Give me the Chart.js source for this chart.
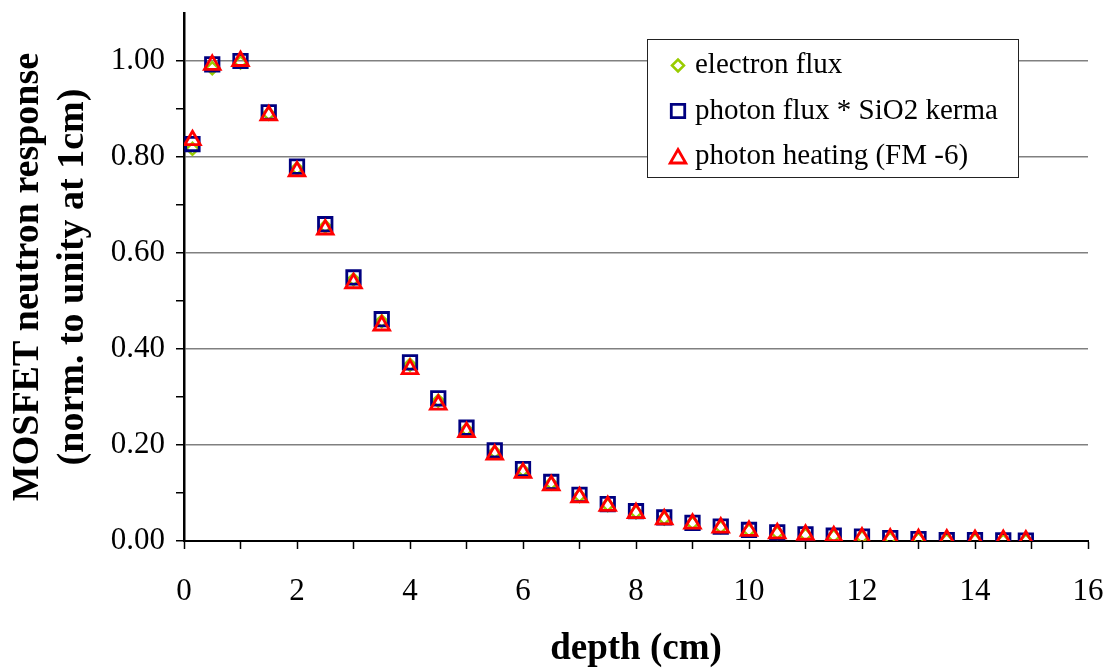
<!DOCTYPE html>
<html>
<head>
<meta charset="utf-8">
<title>MOSFET neutron response vs depth</title>
<script src="https://cdn.jsdelivr.net/npm/chart.js@4/dist/chart.umd.min.js"></script>
<style>
  html, body { margin: 0; padding: 0; background: #fff; }
  #wrap { width: 1110px; height: 668px; }
</style>
</head>
<body>
<div id="wrap"><canvas id="resp" width="1110" height="668"></canvas></div>
<script>
// depth in cm
var depth = [0.15, 0.5, 1, 1.5, 2, 2.5, 3, 3.5, 4, 4.5, 5, 5.5, 6, 6.5, 7, 7.5,
             8, 8.5, 9, 9.5, 10, 10.5, 11, 11.5, 12, 12.5, 13, 13.5, 14, 14.5, 14.9];

// response normalised to 1 at 1 cm
var electronFlux = [0.817, 0.985, 0.997, 0.890, 0.776, 0.655, 0.545, 0.458, 0.367, 0.292,
                    0.232, 0.185, 0.147, 0.120, 0.094, 0.075, 0.060, 0.047, 0.037, 0.029,
                    0.022, 0.017, 0.013, 0.010, 0.008, 0.005, 0.004, 0.002, 0.002, 0.001, 0.001];
var photonKerma = [0.827, 0.993, 1.000, 0.893, 0.780, 0.660, 0.549, 0.462, 0.372, 0.297,
                   0.236, 0.189, 0.150, 0.123, 0.096, 0.077, 0.062, 0.049, 0.038, 0.030,
                   0.023, 0.018, 0.014, 0.011, 0.009, 0.006, 0.004, 0.002, 0.002, 0.0015, 0.001];
var photonHeating = [0.835, 0.992, 1.000, 0.887, 0.770, 0.649, 0.537, 0.449, 0.358, 0.284,
                     0.227, 0.180, 0.142, 0.116, 0.091, 0.073, 0.058, 0.045, 0.036, 0.028,
                     0.021, 0.016, 0.013, 0.010, 0.007, 0.005, 0.004, 0.003, 0.002, 0.002, 0.001];

var seriesLabels = ['electron flux', 'photon flux * SiO2 kerma', 'photon heating (FM -6)'];

var xTicksMax = 16;
var yTicksMax = 1.1;

Chart.defaults.font.family = "'Liberation Serif', 'Times New Roman', serif";
Chart.defaults.color = '#000';

function pts(ys) {
    return depth.map(function (d, i) { return { x: d, y: ys[i] }; });
}

// legend box in the upper right of the plot
var boxLegend = {
    id: 'boxLegend',
    afterDraw: function (chart) {
        var ctx = chart.ctx;
        var bx = 647.5, by = 39.5, bw = 371, bh = 138;
        ctx.save();
        ctx.fillStyle = '#fff';
        ctx.fillRect(bx, by, bw, bh);
        ctx.strokeStyle = '#222';
        ctx.lineWidth = 1;
        ctx.strokeRect(bx, by, bw, bh);

        chart.data.datasets.forEach(function (ds, i) {
            var cy = by + 26 + i * 45.5;
            ctx.save();
            ctx.strokeStyle = ds.borderColor;
            ctx.fillStyle = 'rgba(0,0,0,0)';
            ctx.lineWidth = ds.borderWidth;
            Chart.helpers.drawPoint(ctx, {
                pointStyle: ds.pointStyle,
                radius: ds.pointRadius,
                borderWidth: ds.borderWidth,
                rotation: 0
            }, 678, cy + (ds.pointStyle === 'triangle' ? 2 : 0));
            ctx.restore();

            ctx.fillStyle = '#000';
            ctx.font = "29px 'Liberation Serif', 'Times New Roman', serif";
            ctx.textBaseline = 'middle';
            ctx.textAlign = 'left';
            ctx.fillText(ds.label, 695, cy);
        });
        ctx.restore();
    }
};

new Chart(document.getElementById('resp'), {
    type: 'scatter',
    data: {
        datasets: [
            {
                label: seriesLabels[0],
                data: pts(electronFlux),
                pointStyle: 'rectRot',
                pointRadius: 6,
                borderColor: '#99CC00',
                backgroundColor: 'rgba(0,0,0,0)',
                borderWidth: 2.5,
                order: 3
            },
            {
                label: seriesLabels[1],
                data: pts(photonKerma),
                pointStyle: 'rect',
                pointRadius: 9.5,
                borderColor: '#000080',
                backgroundColor: 'rgba(0,0,0,0)',
                borderWidth: 2.8,
                order: 2
            },
            {
                label: seriesLabels[2],
                data: pts(photonHeating),
                pointStyle: 'triangle',
                pointRadius: 9,
                borderColor: '#FF0000',
                backgroundColor: 'rgba(0,0,0,0)',
                borderWidth: 2.8,
                order: 1
            }
        ]
    },
    options: {
        responsive: false,
        animation: false,
        devicePixelRatio: 1,
        layout: { padding: { left: 0, right: 22, top: 13, bottom: 0 } },
        plugins: {
            legend: { display: false },
            tooltip: { enabled: false }
        },
        scales: {
            x: {
                type: 'linear',
                min: 0,
                max: xTicksMax,
                afterFit: function (s) {
                    s.height = 127;
                    s.paddingLeft = 0;
                    s.paddingRight = 0;
                },
                border: { color: '#000', width: 2 },
                grid: {
                    drawOnChartArea: false,
                    drawTicks: true,
                    tickLength: 8,
                    tickColor: '#000',
                    tickWidth: 1.5
                },
                ticks: {
                    stepSize: 1,
                    autoSkip: false,
                    maxRotation: 0,
                    padding: 24,
                    font: { size: 31 },
                    callback: function (v) { return v % 2 === 0 ? String(v) : ''; }
                },
                title: {
                    display: true,
                    text: 'depth (cm)',
                    font: { size: 37, weight: 'bold', lineHeight: 1.0 },
                    padding: { top: 0, bottom: 0 }
                }
            },
            y: {
                type: 'linear',
                min: 0,
                max: yTicksMax,
                afterFit: function (s) {
                    s.width = 184;
                    s.paddingTop = 0;
                    s.paddingBottom = 0;
                },
                border: { color: '#000', width: 2.5 },
                grid: {
                    color: function (c) {
                        var k = Math.round(c.tick.value * 10);
                        return (k % 2 === 0 && k > 0 && k <= 10) ? '#808080' : 'rgba(0,0,0,0)';
                    },
                    lineWidth: 1.5,
                    tickLength: 8,
                    tickColor: function (c) {
                        var k = Math.round(c.tick.value * 10);
                        return k <= 10 ? '#000' : 'rgba(0,0,0,0)';
                    },
                    tickWidth: 1.5
                },
                ticks: {
                    stepSize: 0.1,
                    autoSkip: false,
                    padding: 11,
                    font: { size: 31 },
                    callback: function (v) {
                        var k = Math.round(v * 10);
                        return (k % 2 === 0 && k <= 10) ? (k / 10).toFixed(2) : '';
                    }
                },
                title: {
                    display: true,
                    text: ['MOSFET neutron response', '(norm. to unity at 1cm)'],
                    font: { size: 38, weight: 'bold', lineHeight: 1.2 },
                    padding: { top: 5, bottom: 0 }
                }
            }
        }
    },
    plugins: [boxLegend]
});
</script>
</body>
</html>
